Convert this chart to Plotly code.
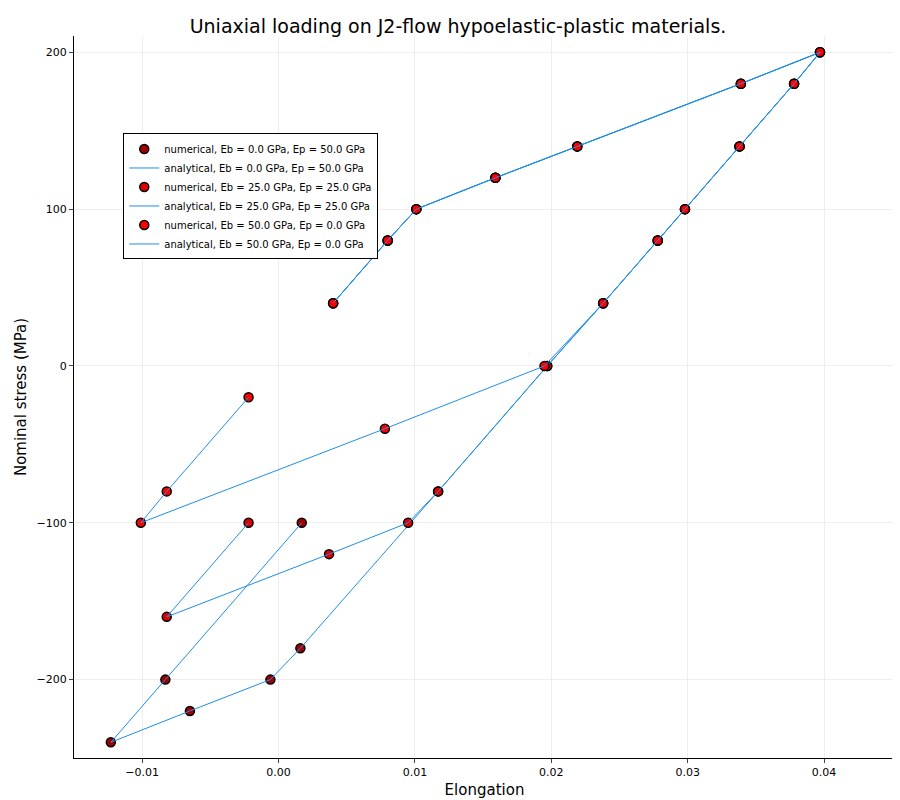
import plotly.graph_objects as go

# loading branch (shared by all three materials)
load_x = [0.0040, 0.0080, 0.0101, 0.0159, 0.0219, 0.0339, 0.0397]
load_y = [40, 80, 100, 120, 140, 180, 200]

# Eb = 0, Ep = 50 (isotropic)
iso_x = [0.0378, 0.0338, 0.0298, 0.0278, 0.0238, 0.0197, 0.0117, 0.0016, -0.0006, -0.0065, -0.0123, -0.0083, 0.0017]
iso_y = [180, 140, 100, 80, 40, 0, -80, -180, -200, -220, -240, -200, -100]

# Eb = 25, Ep = 25 (mixed)
mix_x = [0.0378, 0.0338, 0.0298, 0.0278, 0.0238, 0.0197, 0.0117, 0.0095, 0.0037, -0.0082, -0.0022]
mix_y = [180, 140, 100, 80, 40, 0, -80, -100, -120, -160, -100]

# Eb = 50, Ep = 0 (kinematic)
kin_x = [0.0378, 0.0338, 0.0298, 0.0278, 0.0238, 0.0195, 0.0078, -0.0101, -0.0082, -0.0022]
kin_y = [180, 140, 100, 80, 40, 0, -40, -100, -80, -20]

names = ["Eb = 0.0 GPa, Ep = 50.0 GPa", "Eb = 25.0 GPa, Ep = 25.0 GPa", "Eb = 50.0 GPa, Ep = 0.0 GPa"]
branches = [(iso_x, iso_y), (mix_x, mix_y), (kin_x, kin_y)]
mcolors = ["#a00000", "#e00000", "#ff0000"]

fig = go.Figure()
for name, (bx, by), mc in zip(names, branches, mcolors):
    xs = load_x + bx
    ys = load_y + by
    fig.add_trace(go.Scatter(x=xs, y=ys, mode="markers", name="numerical, " + name,
                             marker=dict(color=mc, size=9, line=dict(color="black", width=1.5))))
    fig.add_trace(go.Scatter(x=xs, y=ys, mode="lines", name="analytical, " + name,
                             line=dict(color="#1f8ee6", width=1)))

fig.update_layout(
    width=900, height=800, plot_bgcolor="white", paper_bgcolor="white",
    font=dict(family="DejaVu Sans", size=11, color="black"),
    title=dict(text="Uniaxial loading on J2-flow hypoelastic-plastic materials.", x=0.5, y=0.985,
               font=dict(size=19)),
    margin=dict(l=66, r=13, t=28, b=50, pad=0),
    legend=dict(x=0.06, y=0.865, bgcolor="white", bordercolor="black", borderwidth=1,
                font=dict(size=10), tracegroupgap=0, itemwidth=30),
)
axis = dict(showgrid=True, gridcolor="#eeeeee", zeroline=False, showline=True, linecolor="black",
            ticks="outside", ticklen=4, mirror=False, title_font=dict(size=15))
fig.update_xaxes(axis, range=[-0.015, 0.0452], tickvals=[-0.01, 0, 0.01, 0.02, 0.03, 0.04],
                 tickformat=".2f", title_text="Elongation", title_standoff=6)
fig.update_yaxes(axis, range=[-250, 210.4], tickvals=[-200, -100, 0, 100, 200],
                 title_text="Nominal stress (MPa)", title_standoff=6)
fig.write_html("out.html")
